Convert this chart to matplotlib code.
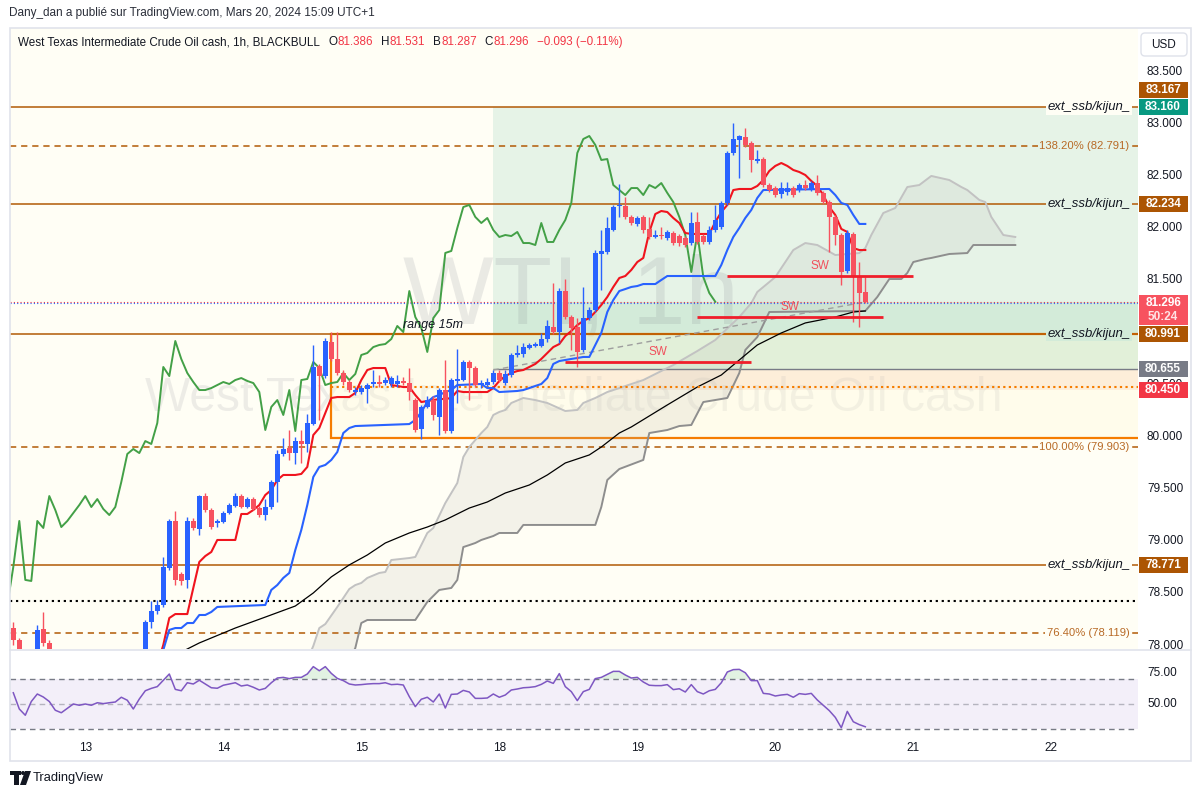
import numpy as np
import matplotlib
matplotlib.use("Agg")
import matplotlib.pyplot as plt
import matplotlib.transforms as mtransforms
from matplotlib.patches import Rectangle, FancyBboxPatch, Polygon, Circle

plt.rcParams['font.family'] = ['Liberation Sans', 'DejaVu Sans']
plt.rcParams['lines.scale_dashes'] = False
plt.rcParams['axes.unicode_minus'] = False

# ----------------------------------------------------------------- data
opens = [78.169, 78.055, 77.911, 77.815, 77.901, 78.160, 78.026, 77.911, 77.815, 77.672,
         77.749, 77.576, 77.480, 77.537, 77.431, 77.499, 77.576, 77.528, 77.614, 77.576,
         77.672, 77.749, 77.882, 78.227, 78.332, 78.390, 78.745, 79.195, 78.687, 78.630,
         79.195, 79.118, 79.434, 79.300, 79.176, 79.185, 79.271, 79.338, 79.434, 79.329,
         79.405, 79.319, 79.252, 79.329, 79.569, 79.837, 79.894, 79.846, 79.961, 79.933,
         80.125, 80.680, 80.584, 80.910, 80.747, 80.613, 80.527, 80.431, 80.431, 80.460,
         80.508, 80.527, 80.517, 80.508, 80.508, 80.537, 80.517, 80.354, 80.077, 80.288,
         80.354, 80.192, 80.450, 80.057, 80.537, 80.546, 80.719, 80.661, 80.498, 80.498,
         80.527, 80.613, 80.517, 80.594, 80.786, 80.796, 80.853, 80.872, 80.872, 80.939,
         81.054, 81.006, 81.399, 81.150, 81.054, 80.834, 81.140, 81.217, 81.754, 81.773,
         81.984, 82.214, 82.214, 82.109, 82.042, 82.109, 81.994, 81.917, 81.936, 81.907,
         81.955, 81.926, 81.907, 81.859, 82.061, 81.926, 81.869, 81.984, 82.013, 82.243,
         82.722, 82.847, 82.875, 82.818, 82.645, 82.664, 82.415, 82.386, 82.329, 82.348,
         82.386, 82.367, 82.415, 82.377, 82.434, 82.339, 82.252, 82.109, 81.936, 81.591,
         81.946, 81.533, 81.386]
highs = [78.227, 78.074, 77.940, 77.959, 78.198, 78.323, 78.055, 77.959, 77.863, 77.786,
         77.806, 77.634, 77.595, 77.576, 77.556, 77.634, 77.634, 77.672, 77.691, 77.710,
         77.786, 77.911, 78.246, 78.428, 78.438, 78.850, 79.214, 79.291, 78.706, 79.233,
         79.224, 79.444, 79.463, 79.319, 79.214, 79.291, 79.367, 79.463, 79.453, 79.425,
         79.425, 79.338, 79.405, 79.588, 79.875, 79.990, 80.067, 80.000, 80.067, 80.220,
         80.882, 80.700, 80.949, 81.006, 81.006, 80.642, 80.546, 80.479, 80.498, 80.517,
         80.642, 80.594, 80.575, 80.584, 80.594, 80.575, 80.661, 80.374, 80.307, 80.393,
         80.393, 80.469, 80.738, 80.565, 80.843, 80.738, 80.738, 80.680, 80.546, 80.565,
         80.642, 80.642, 80.642, 80.805, 80.882, 80.901, 80.901, 80.910, 80.997, 81.121,
         81.476, 81.428, 81.514, 81.169, 81.140, 81.438, 81.245, 81.792, 81.984, 82.109,
         82.224, 82.425, 82.300, 82.128, 82.118, 82.128, 82.109, 81.984, 82.013, 81.984,
         81.974, 81.946, 81.926, 82.156, 82.156, 81.946, 82.022, 82.224, 82.262, 82.741,
         83.010, 82.894, 82.962, 82.837, 82.751, 82.684, 82.434, 82.406, 82.444, 82.444,
         82.406, 82.434, 82.463, 82.454, 82.511, 82.358, 82.272, 82.128, 81.955, 81.984,
         81.965, 81.678, 81.531]
lows = [78.007, 77.844, 77.749, 77.768, 77.844, 77.997, 77.863, 77.749, 77.576, 77.595,
        77.499, 77.364, 77.384, 77.326, 77.364, 77.441, 77.461, 77.480, 77.499, 77.537,
        77.614, 77.710, 77.844, 78.169, 78.303, 78.370, 78.726, 78.581, 78.581, 78.553,
        79.109, 79.061, 79.281, 79.118, 79.137, 79.176, 79.262, 79.329, 79.319, 79.319,
        79.300, 79.233, 79.205, 79.310, 79.377, 79.818, 79.780, 79.741, 79.751, 79.856,
        80.115, 80.163, 80.565, 80.728, 80.594, 80.498, 80.431, 80.402, 80.412, 80.326,
        80.479, 80.479, 80.498, 80.479, 80.479, 80.498, 80.354, 80.048, 79.981, 80.278,
        80.163, 80.019, 80.038, 80.038, 80.326, 80.537, 80.354, 80.479, 80.469, 80.489,
        80.508, 80.527, 80.498, 80.575, 80.767, 80.767, 80.843, 80.863, 80.863, 80.910,
        80.987, 80.901, 81.131, 80.834, 80.671, 80.815, 81.121, 81.198, 81.409, 81.754,
        81.974, 82.109, 82.089, 82.032, 82.022, 81.955, 81.898, 81.907, 81.898, 81.888,
        81.840, 81.830, 81.821, 81.840, 81.850, 81.850, 81.850, 81.965, 81.994, 82.224,
        82.703, 82.482, 82.780, 82.540, 82.626, 82.396, 82.348, 82.300, 82.291, 82.319,
        82.300, 82.348, 82.367, 82.358, 82.319, 82.233, 81.773, 81.840, 81.457, 81.572,
        81.102, 81.054, 81.287]
closes = [78.055, 77.911, 77.815, 77.901, 78.151, 78.026, 77.911, 77.815, 77.672, 77.749,
          77.576, 77.480, 77.537, 77.431, 77.499, 77.576, 77.528, 77.614, 77.576, 77.672,
          77.749, 77.863, 78.227, 78.332, 78.390, 78.754, 79.195, 78.630, 78.620, 79.195,
          79.128, 79.434, 79.300, 79.137, 79.195, 79.271, 79.348, 79.434, 79.329, 79.405,
          79.310, 79.252, 79.329, 79.569, 79.837, 79.885, 79.846, 79.961, 79.933, 80.134,
          80.671, 80.584, 80.920, 80.747, 80.613, 80.527, 80.450, 80.450, 80.469, 80.498,
          80.527, 80.508, 80.546, 80.565, 80.537, 80.517, 80.431, 80.067, 80.288, 80.354,
          80.211, 80.450, 80.057, 80.546, 80.556, 80.719, 80.661, 80.498, 80.517, 80.527,
          80.613, 80.546, 80.604, 80.786, 80.805, 80.862, 80.882, 80.891, 80.939, 81.064,
          81.006, 81.399, 81.150, 81.045, 80.815, 81.140, 81.217, 81.764, 81.783, 82.003,
          82.204, 82.224, 82.109, 82.051, 82.099, 81.984, 81.917, 81.936, 81.926, 81.965,
          81.859, 81.859, 81.840, 82.051, 81.869, 81.869, 81.984, 82.080, 82.243, 82.722,
          82.856, 82.885, 82.799, 82.655, 82.664, 82.415, 82.367, 82.319, 82.386, 82.386,
          82.319, 82.415, 82.386, 82.434, 82.339, 82.252, 82.109, 81.936, 81.581, 81.955,
          81.533, 81.380, 81.296]
rsi = [59.0, 46.0, 41.0, 52.0, 58.0, 55.6, 52.0, 45.0, 43.0, 46.5,
       50.0, 49.0, 50.0, 49.0, 51.0, 50.3, 51.0, 51.6, 55.4, 53.0,
       46.0, 54.0, 60.6, 62.5, 63.9, 69.0, 74.0, 61.7, 60.6, 67.0,
       66.0, 69.0, 66.0, 63.0, 62.6, 65.0, 66.0, 67.0, 64.4, 65.2,
       63.4, 61.2, 62.5, 67.0, 70.8, 71.3, 70.3, 71.3, 71.3, 74.0,
       79.9, 76.6, 79.9, 74.5, 70.5, 68.7, 66.0, 65.2, 65.5, 66.0,
       66.3, 66.3, 67.0, 65.5, 65.8, 65.2, 55.9, 47.9, 53.8, 55.4,
       51.6, 58.0, 46.8, 57.7, 58.0, 60.9, 59.6, 54.5, 54.5, 54.8,
       58.0, 55.4, 57.2, 61.2, 62.0, 63.0, 63.3, 63.9, 65.7, 68.4,
       66.5, 74.3, 63.9, 59.9, 52.7, 59.9, 61.7, 70.3, 71.3, 73.7,
       76.1, 76.1, 73.2, 70.8, 71.3, 67.6, 65.0, 64.7, 64.7, 65.5,
       61.5, 62.2, 59.6, 65.5, 59.9, 58.0, 60.6, 61.7, 67.0, 75.6,
       77.5, 77.7, 75.0, 68.7, 68.7, 58.5, 58.0, 56.4, 57.2, 57.7,
       55.4, 58.3, 57.7, 58.5, 53.2, 49.0, 44.7, 39.3, 31.0, 44.1,
       35.8, 33.5, 31.8]

tenkan_first_bar = 24
tenkan = [77.815, 78.007, 78.265, 78.303, 78.303, 78.303, 78.553, 78.802, 78.859, 78.898,
          79.013, 79.013, 79.013, 79.013, 79.262, 79.262, 79.300, 79.348, 79.444, 79.492,
          79.588, 79.636, 79.636, 79.636, 79.646, 79.713, 80.019, 80.086, 80.230, 80.374,
          80.383, 80.383, 80.383, 80.422, 80.546, 80.642, 80.661, 80.661, 80.661, 80.498,
          80.489, 80.479, 80.479, 80.402, 80.335, 80.345, 80.354, 80.364, 80.364, 80.374,
          80.441, 80.431, 80.431, 80.431, 80.431, 80.431, 80.469, 80.537, 80.584, 80.613,
          80.632, 80.642, 80.671, 80.700, 80.748, 80.805, 80.862, 80.891, 80.968, 81.016,
          81.073, 81.112, 81.140, 81.198, 81.265, 81.342, 81.438, 81.524, 81.543, 81.601,
          81.677, 81.716, 81.965, 82.137, 82.166, 82.156, 82.099, 82.051, 81.955, 81.946,
          81.946, 81.946, 81.946, 82.061, 82.156, 82.224, 82.367, 82.377, 82.377, 82.377,
          82.406, 82.463, 82.550, 82.598, 82.626, 82.598, 82.559, 82.540, 82.511, 82.454,
          82.406, 82.319, 82.204, 82.128, 81.994, 81.965, 81.811, 81.792, 81.792]

kijun_bar = [25, 26, 27, 28, 29, 30, 31, 32, 33, 34, 42, 43, 44, 45, 46, 47, 48, 49, 50, 51,
             52, 53, 54, 55, 56, 57, 66, 67, 68, 69, 70, 71, 72, 73, 74, 78, 79, 80, 81, 84,
             85, 86, 87, 88, 89, 90, 91, 92, 93, 94, 95, 96, 97, 98, 99, 100, 101, 102, 103,
             104, 105, 107, 108, 109, 117, 118, 119, 120, 121, 122, 123, 124, 125, 136, 137,
             138, 139, 140, 141, 142]
kijun = [77.959, 78.151, 78.169, 78.169, 78.217, 78.217, 78.294, 78.294, 78.323, 78.371,
         78.390, 78.534, 78.581, 78.649, 78.697, 78.917, 79.109, 79.348, 79.617, 79.713,
         79.732, 79.780, 79.856, 80.038, 80.086, 80.105, 80.124, 80.163, 80.239, 80.335,
         80.383, 80.402, 80.431, 80.450, 80.498, 80.508, 80.469, 80.469, 80.431, 80.441,
         80.450, 80.469, 80.489, 80.508, 80.565, 80.700, 80.728, 80.738, 80.748, 80.757,
         80.767, 80.767, 80.882, 80.997, 81.198, 81.313, 81.399, 81.418, 81.438, 81.447,
         81.466, 81.466, 81.505, 81.543, 81.543, 81.649, 81.792, 81.917, 82.003, 82.099,
         82.176, 82.291, 82.367, 82.377, 82.319, 82.243, 82.224, 82.128, 82.042, 82.042]

span_a_bar = [49, 50, 51, 52, 54, 56, 57, 58, 59, 61, 62, 63, 66, 67, 69, 70, 72, 74, 75, 76,
              78, 79, 80, 81, 82, 83, 85, 87, 89, 92, 94, 95, 97, 99, 101, 105, 110, 114, 117,
              121, 123, 124, 127, 130, 132, 134, 137, 139, 141, 142, 143, 145, 147, 149, 151,
              153, 156, 158, 159, 161, 162, 163, 165, 167]
span_a = [77.863, 77.997, 78.169, 78.207, 78.371, 78.543, 78.581, 78.601, 78.649, 78.697,
          78.706, 78.821, 78.840, 78.850, 79.080, 79.128, 79.367, 79.559, 79.808, 79.904,
          80.038, 80.096, 80.211, 80.240, 80.259, 80.326, 80.374, 80.354, 80.326, 80.249,
          80.259, 80.326, 80.374, 80.431, 80.469, 80.546, 80.690, 80.824, 80.930, 81.150,
          81.284, 81.390, 81.533, 81.792, 81.859, 81.840, 81.744, 81.754, 81.763, 81.811,
          81.936, 82.147, 82.195, 82.396, 82.415, 82.502, 82.463, 82.396, 82.367, 82.272,
          82.252, 82.109, 81.936, 81.917]
span_b_bar = [56, 57, 58, 59, 67, 69, 71, 73, 74, 75, 76, 77, 78, 80, 81, 84, 85, 97, 98, 99,
              101, 105, 106, 109, 111, 113, 115, 119, 121, 122, 124, 126, 142, 144, 146, 148,
              149, 150, 152, 153, 156, 159, 160, 167]
span_b = [77.863, 77.977, 78.217, 78.246, 78.246, 78.419, 78.534, 78.553, 78.630, 78.945,
          78.964, 78.984, 79.013, 79.051, 79.080, 79.080, 79.157, 79.157, 79.329, 79.588,
          79.693, 79.780, 80.038, 80.067, 80.105, 80.115, 80.335, 80.374, 80.613, 80.834,
          80.958, 81.198, 81.208, 81.342, 81.514, 81.514, 81.572, 81.677, 81.706, 81.716,
          81.754, 81.763, 81.840, 81.840]
ma200_bar = [28, 31, 37, 42, 47, 50, 53, 56, 59, 62, 66, 69, 72, 76, 79, 82, 86, 89, 92, 96,
             98, 101, 103, 109, 114, 118, 121, 124, 128, 132, 137, 140, 142]
ma200 = [77.939, 78.026, 78.169, 78.274, 78.380, 78.505, 78.659, 78.774, 78.869, 78.984,
         79.080, 79.137, 79.205, 79.319, 79.377, 79.463, 79.540, 79.636, 79.751, 79.828,
         79.904, 80.038, 80.096, 80.307, 80.479, 80.594, 80.738, 80.882, 80.997, 81.093,
         81.150, 81.198, 81.208]
chikou_shift = 25

day_tick_bars = [12, 35, 58, 81, 104, 127, 150, 173]
day_tick_labels = ['13', '14', '15', '18', '19', '20', '21', '22']
price_ticks = [83.5, 83.0, 82.5, 82.0, 81.5, 81.0, 80.5, 80.0, 79.5, 79.0, 78.5, 78.0]
rsi_ticks = [75, 50]
rsi_bands = [70, 50, 30]

ext_levels = [83.160, 82.234, 80.991, 78.771]
fib_levels = [82.791, 79.903, 78.119]
fib_labels = ['138.20% (82.791)', '100.00% (79.903)', '76.40% (78.119)']
black_dotted_level = 78.430
last_price = 81.296
bid_price = 81.287
orange_dotted_level = 80.480
orange_dotted_from_bar = 53

zone_from_bar = 80
green_zone = [80.655, 83.160]
green_zone_inner = [80.655, 81.290]
salmon_zone = [80.450, 80.655]
range_box_bar = 53
range_box = [79.990, 80.991]
range_text_bar = 70
range_text_price = 81.070

trend_bars = [80, 142]
trend_prices = [80.642, 81.294]

sw_from = [92, 114, 119]
sw_to = [123, 145, 150]
sw_price = [80.719, 81.150, 81.543]

tag_prices = [83.167, 83.160, 82.234, 80.991, 80.655, 80.450, 78.771]
tag_kinds = ['brown', 'teal', 'brown', 'brown', 'gray', 'red', 'brown']
countdown = '50:24'

header = "Dany_dan a publié sur TradingView.com, Mars 20, 2024 15:09 UTC+1"
symbol_title = "West Texas Intermediate Crude Oil cash, 1h, BLACKBULL"
ohlc_text = [("O", "81.386"), ("H", "81.531"), ("B", "81.287"), ("C", "81.296")]
change_text = "\u22120.093 (\u22120.11%)"

# ----------------------------------------------------------------- style
UP = '#2962ff'
DN = '#f7525f'
BROWN = '#b25a06'
BROWN_TAG = '#ac5503'
FIB_TXT = '#b86a26'
TEAL = '#089981'
RED = '#f23645'
GRAY = '#787b86'
DARK = '#131722'
CREAM = '#fffef5'
GREEN1 = '#e6f3e7'
GREEN2 = '#d3ebd9'
SALMON = '#fce8da'
tag_colors = {'brown': BROWN_TAG, 'teal': TEAL, 'gray': GRAY, 'red': RED}

W, H = 1201, 797
fig = plt.figure(figsize=(W / 100, H / 100), dpi=100)
fig.patch.set_facecolor('white')
renderer = fig.canvas.get_renderer()


def px_axes(x0, y0, x1, y1):
    return fig.add_axes([x0 / W, 1 - y1 / H, (x1 - x0) / W, (y1 - y0) / H])


def fit_size(s, target, **kw):
    t = fig.text(0, 0, s, fontsize=10, **kw)
    w = t.get_window_extent(renderer).width
    t.remove()
    return 10.0 * target / w


def clean(a, fc):
    a.set_facecolor(fc)
    a.set_xticks([])
    a.set_yticks([])
    for s in a.spines.values():
        s.set_visible(False)


PL, PR = 10, 1138
MT, MB = 28, 649
RT, RB = 650, 737
SR = 1191
YMIN, YMAX = 77.968, 83.920
XMIN, XMAX = -0.55, 187.45

fs_axis = fit_size('83.500', 36)

# ----------------------------------------------------------------- main pane
ax = px_axes(PL, MT, PR, MB)
clean(ax, CREAM)
ax.set_xlim(XMIN, XMAX)
ax.set_ylim(YMIN, YMAX)
ppp = (MB - MT) / (YMAX - YMIN)  # pixels per price unit

ax.add_patch(Rectangle((zone_from_bar, green_zone[0]), 500, green_zone[1] - green_zone[0],
                       fc=GREEN1, ec='none', zorder=0.2))
ax.add_patch(Rectangle((zone_from_bar, green_zone_inner[0]), 500,
                       green_zone_inner[1] - green_zone_inner[0], fc=GREEN2, ec='none', zorder=0.3))
ax.add_patch(Rectangle((zone_from_bar, salmon_zone[0]), 500, salmon_zone[1] - salmon_zone[0],
                       fc=SALMON, ec='none', zorder=0.3))
ax.hlines(green_zone[0], zone_from_bar, 500, color=GRAY, lw=1.0, zorder=1.5)

# watermarks
wm1 = 'WTI, 1h'
ax.text(571 / W, 1 - 323 / H, wm1, transform=fig.transFigure, ha='center', va='baseline',
        fontsize=fit_size(wm1, 335), color=(0.47, 0.48, 0.53, 0.15), zorder=0.5)
wm2 = 'West Texas Intermediate Crude Oil cash'
ax.text(574 / W, 1 - 411 / H, wm2, transform=fig.transFigure, ha='center', va='baseline',
        fontsize=fit_size(wm2, 860), color=(0.47, 0.48, 0.53, 0.13), zorder=0.5)

# range box
ax.add_patch(Rectangle((range_box_bar, range_box[0]), 500, range_box[1] - range_box[0],
                       fc=(1.0, 0.98, 0.85, 0.35), ec='#f57c00', lw=1.6, zorder=0.8))
rt = 'range 15m'
ax.text(range_text_bar, range_text_price, rt, ha='center', va='center', style='italic',
        fontsize=fit_size(rt, 60, style='italic'), color=DARK, zorder=7)

# cloud
poly_x = np.r_[span_a_bar, span_b_bar[::-1]]
poly_y = np.r_[span_a, span_b[::-1]]
ax.add_patch(Polygon(np.c_[poly_x, poly_y], closed=True, fc=(0.72, 0.72, 0.70, 0.17),
                     ec='none', zorder=1))
ax.plot(span_a_bar, span_a, color='#c2c2c2', lw=1.4, zorder=2.2, solid_joinstyle='round')
ax.plot(span_b_bar, span_b, color='#8e8e8e', lw=1.4, zorder=2.2, solid_joinstyle='round')

# levels
bl = mtransforms.blended_transform_factory(ax.transAxes, ax.transData)
fs_ext = fit_size('ext_ssb/kijun_', 84, style='italic')
fs_fib = fit_size(fib_labels[0], 90)


def bg_for(p):
    if green_zone_inner[0] <= p <= green_zone_inner[1]:
        return GREEN2
    if green_zone[0] <= p < green_zone[1]:
        return GREEN1
    return CREAM


for v in ext_levels:
    ax.axhline(v, color=BROWN, lw=1.1, zorder=2)
    ax.text(0.993, v, 'ext_ssb/kijun_', transform=bl, ha='right', va='center',
            style='italic', fontsize=fs_ext, color=DARK, zorder=8,
            bbox=dict(boxstyle='square,pad=0.12', fc=bg_for(v), ec='none'))
for v, lab in zip(fib_levels, fib_labels):
    ax.axhline(v, color=BROWN, lw=1.1, dashes=(4.5, 3.5), zorder=2)
    ax.text(0.9925, v, lab, transform=bl, ha='right', va='center', fontsize=fs_fib,
            color=FIB_TXT, zorder=8,
            bbox=dict(boxstyle='square,pad=0.15', fc=bg_for(v), ec='none'))

ax.axhline(black_dotted_level, color='black', lw=1.5, dashes=(1.6, 2.7), zorder=2)
ax.axhline(last_price, color=RED, lw=0.8, dashes=(0.8, 1.6), zorder=2.6)
ax.axhline(bid_price, color=UP, lw=0.8, dashes=(0.8, 1.6), zorder=2.6)
ax.hlines(orange_dotted_level, orange_dotted_from_bar, 500, color='#f57c00', lw=1.5,
          linestyles=(0, (1.6, 2.4)), zorder=2.6)

# moving average and trend
ax.plot(ma200_bar, ma200, color='black', lw=0.9, zorder=2.4)
ax.plot(trend_bars, trend_prices, color='#9e9e9e', lw=1.0, dashes=(4, 3), zorder=2.5)

# ichimoku lines
bars = np.arange(len(closes))
ax.plot(bars - chikou_shift, closes, color='#43a047', lw=1.4, zorder=3)
ax.plot(np.arange(len(tenkan)) + tenkan_first_bar, tenkan, color='#f0141e', lw=1.5, zorder=3.2)
ax.plot(kijun_bar, kijun, color='#2962ff', lw=1.5, zorder=3.2)

# candles
o, h, l, c = map(np.asarray, (opens, highs, lows, closes))
col = np.where(c >= o, UP, DN)
ax.vlines(bars, l, h, colors=col, lw=1.0, zorder=4)
ax.bar(bars, np.maximum(np.abs(c - o), 0.014), bottom=np.minimum(o, c), width=0.76,
       color=col, linewidth=0, zorder=5)

# SW lines
for a, b, p in zip(sw_from, sw_to, sw_price):
    ax.hlines(p, a, b, color='#f01e2b', lw=2.0, zorder=5.5)
    ax.text((a + b) / 2, p + 10 / ppp, 'SW', ha='center', va='center', fontsize=8.5,
            color='#f0505c', zorder=6)

# ----------------------------------------------------------------- price scale
pax = px_axes(PR, MT, SR, MB)
clean(pax, 'white')
pax.set_xlim(0, SR - PR)
pax.set_ylim(YMIN, YMAX)
for p in price_ticks:
    pax.text(27, p, f'{p:.3f}', ha='center', va='center', fontsize=fs_axis, color=DARK,
             clip_on=True, zorder=1)

th = 16 / ppp
gap = 1 / ppp
order = np.argsort(tag_prices)
placed = []
centers = {}
for k in order:
    cen = tag_prices[k]
    if placed and cen - placed[-1] < th + gap:
        cen = placed[-1] + th + gap
    placed.append(cen)
    centers[k] = cen
for k, cen in centers.items():
    pax.add_patch(Rectangle((0.5, cen - th / 2), 49, th, fc=tag_colors[tag_kinds[k]],
                            ec='none', zorder=3))
    pax.text(25, cen, f'{tag_prices[k]:.3f}', ha='center', va='center', fontsize=fs_axis,
             color='white', weight='bold', zorder=4)
# last price tag with countdown
top = last_price + 6.5 / ppp
bot = last_price - 23.5 / ppp
pax.add_patch(Rectangle((0.5, bot), 49, top - bot, fc=DN, ec='none', zorder=3))
pax.text(25, last_price - 1 / ppp, f'{closes[-1]:.3f}', ha='center', va='center',
         fontsize=fs_axis, color='white', weight='bold', zorder=4)
pax.text(25, last_price - 15 / ppp, countdown, ha='center', va='center', fontsize=fs_axis,
         color='#ffe3e6', weight='bold', zorder=4)

# ----------------------------------------------------------------- RSI pane
rax = px_axes(PL, RT, PR, RB)
clean(rax, 'white')
rax.set_xlim(XMIN, XMAX)
r_lo = 50 - (RB - 704) / 1.25
r_hi = 50 + (704 - RT) / 1.25
rax.set_ylim(r_lo, r_hi)
rax.axhspan(rsi_bands[2], rsi_bands[0], color='#7e57c2', alpha=0.09, lw=0, zorder=0.5)
rax.axhline(rsi_bands[0], color=GRAY, lw=1.0, dashes=(4, 3), zorder=1)
rax.axhline(rsi_bands[2], color=GRAY, lw=1.0, dashes=(4, 3), zorder=1)
rax.axhline(rsi_bands[1], color=GRAY, lw=1.0, dashes=(4, 3), alpha=0.5, zorder=1)
r = np.asarray(rsi)
rax.fill_between(bars, r, rsi_bands[0], where=r > rsi_bands[0], interpolate=True,
                 color='#4caf50', alpha=0.16, lw=0, zorder=1.5)
rax.plot(bars, r, color='#7e57c2', lw=1.1, zorder=2)

rpax = px_axes(PR, RT, SR, RB)
clean(rpax, 'white')
rpax.set_xlim(0, SR - PR)
rpax.set_ylim(r_lo, r_hi)
for v in rsi_ticks:
    rpax.text(24, v, f'{v:.2f}', ha='center', va='center', fontsize=fs_axis, color=DARK)

tb = mtransforms.blended_transform_factory(rax.transData, rax.transAxes)
for b, lab in zip(day_tick_bars, day_tick_labels):
    rax.text(b, -(748 - RB) / (RB - RT), lab, transform=tb, ha='center', va='center',
             fontsize=fs_axis, color=DARK, clip_on=False)

# ----------------------------------------------------------------- overlay (frame, header)
oax = fig.add_axes([0, 0, 1, 1], zorder=10)
oax.set_xlim(0, W)
oax.set_ylim(H, 0)
oax.axis('off')
oax.patch.set_alpha(0)
oax.add_patch(Rectangle((9.5, 27.5), SR - 9.5, 761 - 27.5, fc='none', ec='#e0e3eb', lw=1.2))
oax.plot([PL, SR], [649.5, 649.5], color='#e0e3eb', lw=1.2)
oax.add_patch(FancyBboxPatch((1141, 33), 46, 23, boxstyle='round,pad=0,rounding_size=4',
                             fc='white', ec='#dfe2ea', lw=1.0))
oax.text(1164, 45, 'USD', ha='center', va='center', fontsize=fs_axis, color=DARK)

fs_head = fit_size(header, 366)
oax.text(9, 13, header, ha='left', va='center', fontsize=fs_head, color='#2a2e39')

fs_leg = fit_size(symbol_title, 302)
x = 18
parts = [(symbol_title, DARK, 9)]
for lab, val in ohlc_text:
    parts += [(lab, DARK, 0), (val, RED, 8)]
parts += [(change_text, RED, 0)]
for s, cc, g in parts:
    t = oax.text(x, 42, s, ha='left', va='center', fontsize=fs_leg, color=cc)
    x += t.get_window_extent(renderer).width + g

# TradingView logo
oax.add_patch(Rectangle((10, 771), 11, 4, fc='#131722', ec='none'))
oax.add_patch(Rectangle((14, 771), 4.5, 14, fc='#131722', ec='none'))
oax.add_patch(Circle((23, 773), 2, fc='#131722', ec='none'))
oax.add_patch(Polygon([[25, 771], [31, 771], [26, 785], [20, 785]], closed=True,
                      fc='#131722', ec='none'))
oax.text(33, 778, 'TradingView', ha='left', va='center',
         fontsize=fit_size('TradingView', 71), color='#131722')

fig.savefig('out.png', dpi=100, facecolor='white')
